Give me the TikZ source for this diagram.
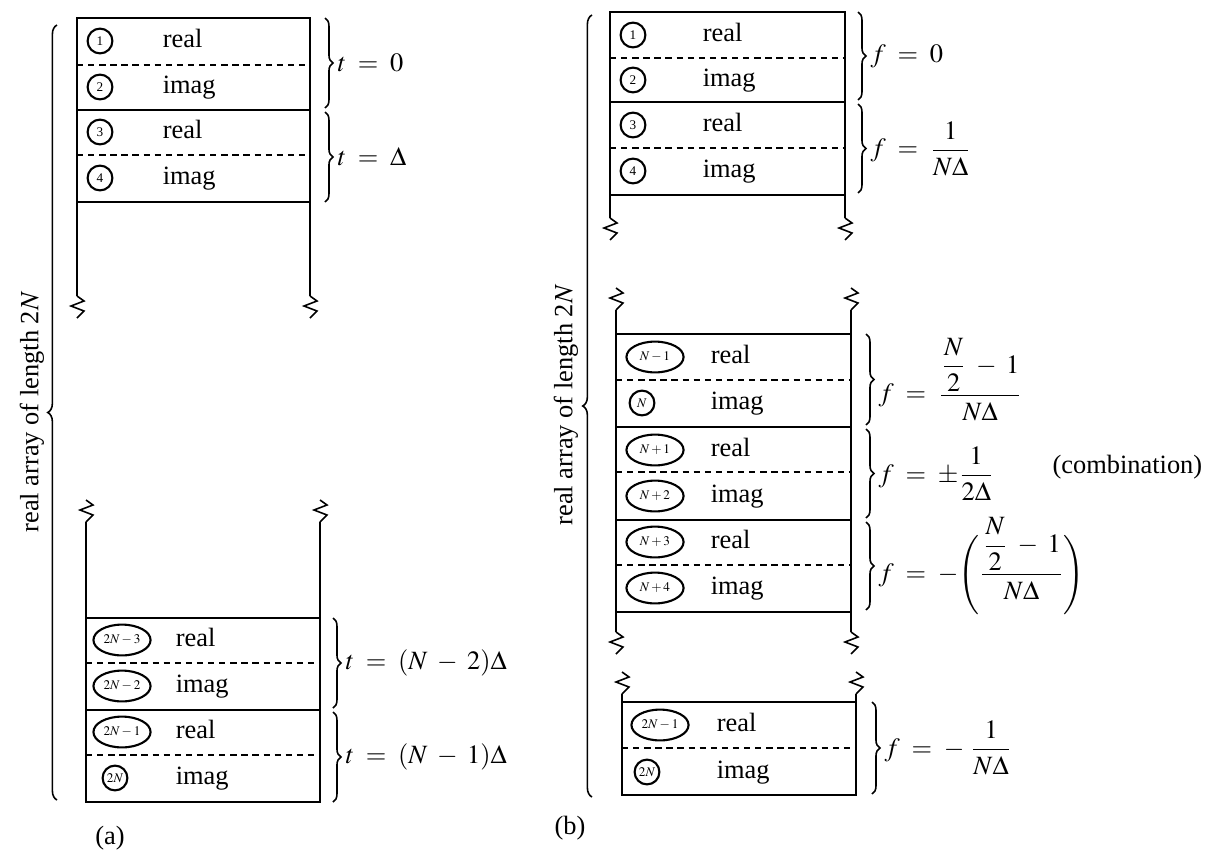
\documentclass[tikz,border=0pt]{standalone}
\usepackage{amsmath}
\usepackage{mathptmx}
\usepackage{fontspec}
\setmainfont{Liberation Serif}
\usepackage{tikz}
\usetikzlibrary{shapes.geometric,decorations.pathreplacing}
\tikzset{
  cell/.style={draw,circle,thick,inner sep=0pt,minimum size=0.33cm,font=\fontsize{5}{6}\selectfont},
  ecell/.style={draw,ellipse,thick,inner sep=0pt,minimum width=0.76cm,minimum height=0.41cm,font=\fontsize{5}{6}\selectfont},
  word/.style={anchor=base west,inner sep=0pt},
  brc/.style={decorate,decoration={brace,amplitude=3pt}},
  bigbrc/.style={decorate,decoration={brace,amplitude=3.5pt}},
  sep/.style={dash pattern=on 2.4pt off 1.8pt},
  eqn/.style={anchor=west,inner sep=0pt,xshift=4.5pt},
  brk/.pic={\draw (0,-11)--(7,-6)--(-6,-1)--(7,4)--(0,11);}
}
\begin{document}
\begin{tikzpicture}[x=0.0133cm,y=-0.0133cm,semithick]
\useasboundingbox (0,0) rectangle (1205,855);
% (a) time domain
\draw (77,296)--(77,18)--(310,18)--(310,296) (77,110)--(310,110) (77,202)--(310,202);
\draw[sep] (77,65)--(310,65) (77,155)--(310,155);
\pic at (77,307) {brk}; \pic at (310,307) {brk};
\foreach \k/\y/\w in {1/41/real,2/87/imag,3/132/real,4/178/imag}{
  \node[cell] (ca\k) at (100,\y) {\k};
  \node[word] (wa\k) at (162,\y+6) {\w};}
\draw (86,522)--(86,802)--(320,802)--(320,522) (86,618)--(320,618) (86,710)--(320,710);
\draw[sep] (86,663)--(320,663) (86,755)--(320,755);
\pic at (86,511) {brk}; \pic at (320,511) {brk};
\foreach \k/\x/\s/\y/\lab/\w in {5/122/ecell/640/{$2N-3$}/real,6/122/ecell/686/{$2N-2$}/imag,7/122/ecell/732/{$2N-1$}/real,8/115/cell/778/{$2N$}/imag}{
  \node[\s] (ca\k) at (\x,\y) {\lab};
  \node[word] (wa\k) at (175,\y+6) {\w};}
\draw[brc] (325,18)--(325,108) node[midway,eqn] (ta1) {$t\;=\;0$};
\draw[brc] (325,112)--(325,202) node[midway,eqn] (ta2) {$t\;=\;\Delta$};
\draw[brc] (333,618)--(333,708) node[midway,eqn] (ta3) {$t\;=\;(N\;-\;2)\Delta$};
\draw[brc] (333,712)--(333,802) node[midway,eqn] (ta4) {$t\;=\;(N\;-\;1)\Delta$};
\draw[bigbrc] (57,800)--(57,25);
\node[rotate=90] (lena) at (32,412) {real array of length 2$N$};
\node (capa) at (110,838) {(a)};
% (b) frequency domain
\draw (610,218)--(610,12)--(845,12)--(845,218) (610,102)--(845,102) (610,195)--(845,195);
\draw[sep] (610,58)--(845,58) (610,148)--(845,148);
\pic at (610,229) {brk}; \pic at (845,229) {brk};
\foreach \k/\y/\w in {1/35/real,2/80/imag,3/125/real,4/171/imag}{
  \node[cell] (cb\k) at (633,\y) {\k};
  \node[word] (wb\k) at (702,\y+6) {\w};}
\draw (616,310)--(616,632) (851,310)--(851,632);
\draw (616,334)--(851,334) (616,427)--(851,427) (616,520)--(851,520) (616,612)--(851,612);
\draw[sep] (616,380)--(851,380) (616,472)--(851,472) (616,565)--(851,565);
\pic at (616,299) {brk}; \pic at (851,299) {brk};
\pic at (616,643) {brk}; \pic at (851,643) {brk};
\foreach \k/\x/\s/\y/\lab/\w in {5/655/ecell/357/{$N-1$}/real,6/642/cell/403/{$N$}/imag,7/655/ecell/450/{$N+1$}/real,8/655/ecell/496/{$N+2$}/imag,9/655/ecell/542/{$N+3$}/real,10/655/ecell/588/{$N+4$}/imag}{
  \node[\s] (cb\k) at (\x,\y) {\lab};
  \node[word] (wb\k) at (710,\y+6) {\w};}
\draw (622,694)--(622,795)--(856,795)--(856,694) (622,702)--(856,702);
\draw[sep] (622,748)--(856,748);
\pic at (622,683) {brk}; \pic at (856,683) {brk};
\node[ecell] (cb11) at (660,725) {$2N-1$};
\node[word] (wb11) at (716,731) {real};
\node[cell] (cb12) at (647,772) {$2N$};
\node[word] (wb12) at (716,778) {imag};
\draw[brc] (858,12)--(858,100) node[midway,eqn] (fb1) {$f\;=\;0$};
\draw[brc] (858,104)--(858,193) node[midway,eqn] (fb2) {$f\;=\;\dfrac{1}{N\Delta}$};
\draw[brc] (866,334)--(866,425) node[midway,eqn] (fb3) {$f\;=\;\dfrac{\dfrac{N}{2}\;-\;1}{N\Delta}$};
\draw[brc] (866,429)--(866,518) node[midway,eqn] (fb4) {$f\;=\;\pm\dfrac{1}{2\Delta}$};
\node[anchor=east,inner sep=0pt] (comb) at (1203,467) {(combination)};
\draw[brc] (866,522)--(866,610) node[midway,eqn] (fb5) {$f\;=\;-\Biggl(\dfrac{\dfrac{N}{2}\;-\;1}{N\Delta}\Biggr)$};
\draw[brc] (872,702)--(872,794) node[midway,eqn] (fb6) {$f\;=\;-\;\dfrac{1}{N\Delta}$};
\draw[bigbrc] (592,797)--(592,15);
\node[rotate=90] (lenb) at (566,405) {real array of length 2$N$};
\node (capb) at (570,828) {(b)};
\end{tikzpicture}
\end{document}
